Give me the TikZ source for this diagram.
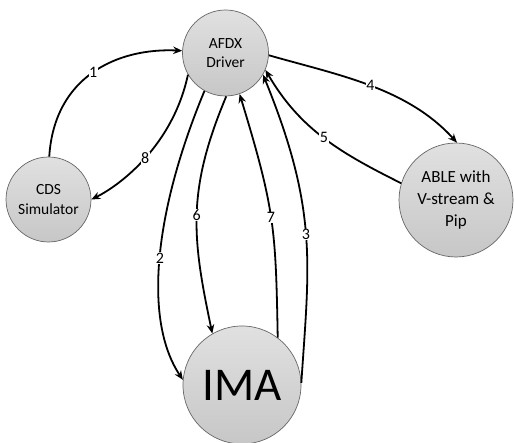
\documentclass[tikz,border=0pt]{standalone}
\usepackage{fontspec}
\setmainfont{Carlito}
\usetikzlibrary{arrows.meta}
\begin{document}
\begin{tikzpicture}[x=1pt,y=1pt,
  state/.style={circle, draw=black!60, line width=0.7pt, top color=black!12, bottom color=black!22, inner sep=0pt, align=center},
  flow/.style={line width=1.8pt, -{Stealth[length=9pt,width=7.5pt]}},
  num/.style={fill=white, inner sep=0.6pt, font=\fontsize{16}{18}\selectfont}]
\useasboundingbox (0,0) rectangle (514,443);
\node[state, minimum size=86pt, font=\fontsize{15.5}{19.5}\selectfont] (afdx) at (225.5,390) {AFDX\\Driver};
\node[state, minimum size=85pt, font=\fontsize{15.5}{19.5}\selectfont] (cds) at (48.5,243.5) {CDS\\Simulator};
\node[state, minimum size=114pt, font=\fontsize{17}{21.7}\selectfont] (able) at (456,243) {ABLE with\\V-stream \&\\Pip};
\node[state, minimum size=118pt, font=\fontsize{47}{50}\selectfont] (ima) at (242,58) {IMA};
% 1
\draw[flow] (cds.89) .. controls +(5,80) and +(-65,3) .. node[num]{1} (afdx.177);
% 8
\draw[flow] (afdx.210) .. controls +(-15,-70) and +(30,15) .. node[num]{8} (cds.0);
% 2
\draw[flow] (afdx.241) .. controls +(-50,-120) and +(-40,60) .. node[num]{2} (ima.175);
% 6
\draw[flow] (afdx.271) .. controls +(-40,-95) and +(-20,95) .. node[num]{6} (ima.120);
% 7
\draw[flow] (ima.53) .. controls +(-2,110) and +(35,-115) .. node[num]{7} (afdx.289);
% 3
\draw[flow] (ima.2) .. controls +(8,120) and +(55,-135) .. node[num]{3} (afdx.330);
% 4
\draw[flow] (afdx.-3) .. controls +(70,-20) and +(-50,55) .. node[num]{4} (able.89);
% 5
\draw[flow] (able.163) .. controls +(-60,30) and +(35,-60) .. node[num]{5} (afdx.337);
\end{tikzpicture}
\end{document}
